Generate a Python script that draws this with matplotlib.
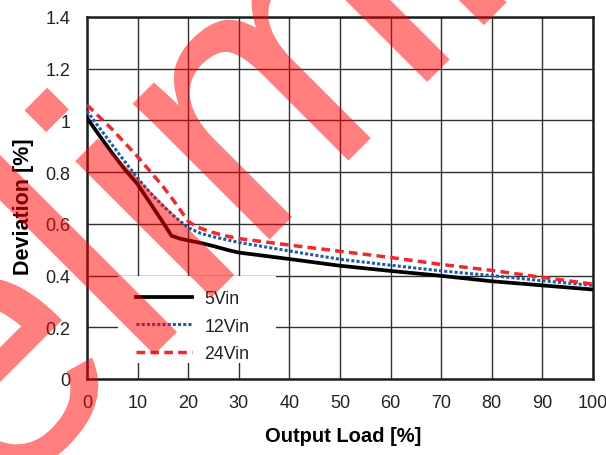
import numpy as np
import matplotlib
matplotlib.use('Agg')
import matplotlib.pyplot as plt
from matplotlib.textpath import TextPath
from matplotlib.patches import PathPatch, Rectangle
from matplotlib.font_manager import FontProperties
from matplotlib.transforms import Affine2D, IdentityTransform

# data
load_5 = [0, 2.5, 5, 7.5, 10, 12.5, 15, 16.7, 18.5, 20, 22.5, 25, 28, 30, 40, 50, 60, 70, 80, 90, 100]
dev_5 = [1.01, 0.94, 0.873, 0.81, 0.753, 0.68, 0.606, 0.554, 0.542, 0.536, 0.526, 0.514, 0.498, 0.489,
         0.464, 0.438, 0.418, 0.399, 0.378, 0.362, 0.346]

load_12 = [0, 2.5, 5, 7.5, 10, 12.5, 15, 17.5, 20, 22.5, 25, 30, 40, 50, 60, 70, 80, 90, 100]
dev_12 = [1.037, 0.97, 0.905, 0.84, 0.777, 0.72, 0.67, 0.625, 0.585, 0.563, 0.55, 0.528,
          0.495, 0.463, 0.44, 0.418, 0.40, 0.38, 0.362]

load_24 = [0, 5, 10, 15, 17.5, 20, 21.5, 24, 27, 30, 40, 50, 60, 70, 80, 90, 100]
dev_24 = [1.06, 0.965, 0.86, 0.745, 0.68, 0.61, 0.59, 0.572, 0.555, 0.543, 0.518, 0.494,
          0.47, 0.443, 0.42, 0.393, 0.367]

labels = ['5Vin', '12Vin', '24Vin']
x_ticks = list(range(0, 101, 10))
y_ticks = [0, 0.2, 0.4, 0.6, 0.8, 1.0, 1.2, 1.4]
y_ticklabels = ['0', '0.2', '0.4', '0.6', '0.8', '1', '1.2', '1.4']

W, H = 606, 456
fig = plt.figure(figsize=(W / 100, H / 100), dpi=100)
ax = fig.add_axes([87 / W, (H - 380) / H, 506 / W, 362 / H])

tick_font = ['Liberation Sans', 'DejaVu Sans']

ax.plot(load_5, dev_5, color='black', lw=2.7, solid_joinstyle='round', label=labels[0], zorder=3)
ax.plot(load_12, dev_12, color='#1f5aa8', lw=2.2, linestyle=(0, (1.0, 0.7)),
        dash_capstyle='butt', label=labels[1], zorder=3)
ax.plot(load_24, dev_24, color='#ec2a2f', lw=2.5, linestyle=(0, (2.5, 1.5)),
        dash_capstyle='butt', label=labels[2], zorder=3)

ax.set_xlim(0, 100)
ax.set_ylim(0, 1.4)
ax.set_xticks(x_ticks)
ax.set_yticks(y_ticks)
ax.set_yticklabels(y_ticklabels)
ax.grid(True, color='#303030', lw=1.0)
ax.set_axisbelow(True)
ax.tick_params(length=0, labelsize=13, labelcolor='#222222')
ax.tick_params(axis='y', pad=12)
ax.tick_params(axis='x', pad=11)
for t in ax.get_xticklabels() + ax.get_yticklabels():
    t.set_family(tick_font)
for s in ax.spines.values():
    s.set_linewidth(1.8)
    s.set_color('#1a2020')

ax.set_xlabel('Output Load [%]', fontsize=14.5, fontweight='bold', family=tick_font)
ax.set_ylabel('Deviation [%]', fontsize=15.5, fontweight='bold', family=tick_font)
ax.xaxis.set_label_coords((343 - 87) / 506, (380 - 427) / 362)
ax.yaxis.set_label_coords((34 - 87) / 506, (380 - 207) / 362)

# white box behind the legend
ax.add_patch(Rectangle(((118 - 87) / 506, (380 - 364) / 362), 158 / 506, 87 / 362,
                       transform=ax.transAxes, facecolor='white', edgecolor='none', zorder=1.5))
leg = ax.legend(loc='center left', bbox_to_anchor=((136 - 87) / 506, (380 - 327) / 362),
                frameon=False, borderpad=0, borderaxespad=0, handlelength=3.15,
                handletextpad=0.7, labelspacing=0.58, prop={'family': tick_font, 'size': 12.8})
for t in leg.get_texts():
    t.set_color('#222222')

# semi-transparent diagonal watermark
fp = FontProperties(family='Liberation Sans')
wm = TextPath((0, 0), 'Preliminary', size=365, prop=fp)
tr = Affine2D().rotate_deg(45).translate(-264.7, H - 774.7)
fig.add_artist(PathPatch(wm, transform=tr + IdentityTransform(), facecolor='red',
                         edgecolor='none', alpha=0.5, zorder=10))

fig.savefig('out.png', dpi=100)
